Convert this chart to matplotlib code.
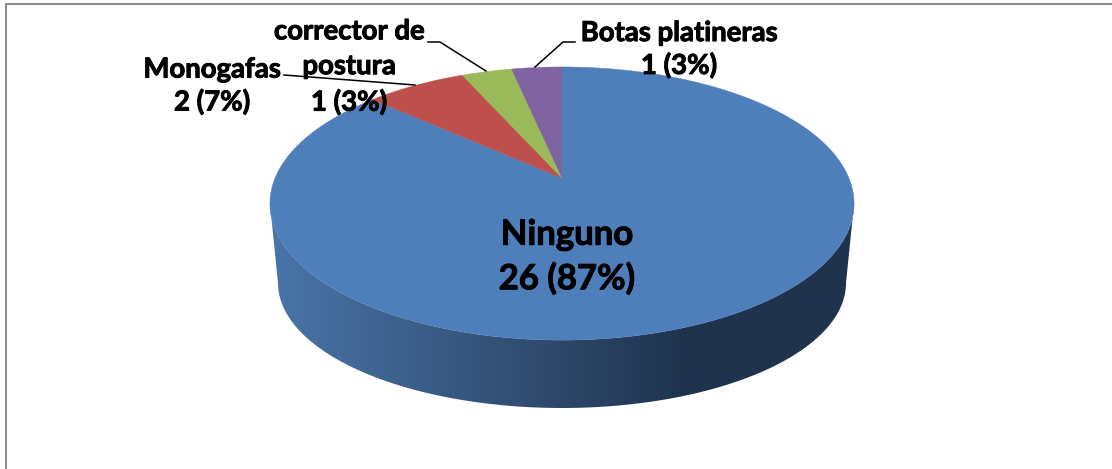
import numpy as np
import matplotlib
matplotlib.use("Agg")
import matplotlib.pyplot as plt
import matplotlib.patheffects as pe
from matplotlib.colors import LinearSegmentedColormap
from matplotlib.patches import Polygon

categories = ["Ninguno", "Monogafas", "corrector de\npostura", "Botas platineras"]
values = [26, 2, 1, 1]
colors = ["#4f7fbb", "#bd504d", "#9aba59", "#8063a1"]

label_xy = [(567, 257), (212, 86), (349, 67), (679, 49.5)]
label_sizes = [25, 19.8, 19.8, 19.8]
label_spacing = [1.45, 1.26, 1.42, 1.26]

# pie geometry in pixels, with perspective on the disk
apex_x, apex_y = 562, 178
scale_x, scale_y, persp = 286.9, 131.8, 0.187
bottom_x, bottom_y, bottom_rx, bottom_ry = 562, 283, 284, 125


def project(t):
    # t is the angle clockwise from the top of the disk
    dx = np.sin(t)
    dy = np.cos(t)
    w = 1 + persp * dy
    return apex_x + scale_x * dx / w, apex_y - scale_y * dy / w


fig = plt.figure(figsize=(11.12, 4.69), dpi=100)
ax = fig.add_axes([0, 0, 1, 1])
ax.set_xlim(0, 1112)
ax.set_ylim(469, 0)
ax.axis("off")

# frame, only top and left show up
ax.plot([5.5, 5.5, 1112], [469, 4, 4], color="#8c8c8c", lw=1.5, solid_joinstyle="miter")

# side of the pie
t_front = np.linspace(np.pi * 0.56, np.pi * 1.44, 200)
tx, ty = project(t_front)
b = np.linspace(np.pi, 2 * np.pi, 200)
bx = bottom_x + bottom_rx * np.cos(b)
by = bottom_y - bottom_ry * np.sin(b)
side_pts = np.column_stack([np.r_[tx, bx], np.r_[ty, by]])
side = Polygon(side_pts, closed=True, facecolor="none", edgecolor="none")
ax.add_patch(side)

side_cmap = LinearSegmentedColormap.from_list(
    "side", [(0, "#4a75a9"), (0.5, "#2d4769"), (0.71, "#1f334e"), (1, "#1f334e")]
)
grad = ax.imshow(np.linspace(0, 1, 400)[None, :], cmap=side_cmap, aspect="auto",
                 extent=[270, 854, 420, 190], zorder=1)
grad.set_clip_path(side)
ax.set_xlim(0, 1112)
ax.set_ylim(469, 0)

# top of the pie
total = sum(values)
start = 0
for v, c in zip(values, colors):
    end = start + v / total * 2 * np.pi
    t = np.linspace(start, end, max(int(v * 20), 12))
    x, y = project(t)
    ax.fill(np.r_[apex_x, x], np.r_[apex_y, y], color=c, lw=0.3, zorder=2)
    start = end

# leader lines
ax.plot([284, 415], [75, 85], color="black", lw=1.1, zorder=3)
ax.plot([428, 440, 486], [42, 42, 71], color="black", lw=1.1, zorder=3)
ax.plot([575, 563, 535], [42, 42, 67], color="black", lw=1.1, zorder=3)

for cat, v, (lx, ly), fs, sp in zip(categories, values, label_xy, label_sizes, label_spacing):
    pct = round(100 * v / total)
    txt = ax.text(lx, ly, f"{cat}\n{v} ({pct}%)", ha="center", va="center", family="Lato",
                  fontweight="bold", fontsize=fs, linespacing=sp, color="black", zorder=4)
    # Lato bold comes out lighter than the reference, thicken it a bit
    txt.set_path_effects([pe.withStroke(linewidth=0.7, foreground="black")])

fig.savefig("out.png", dpi=100)
